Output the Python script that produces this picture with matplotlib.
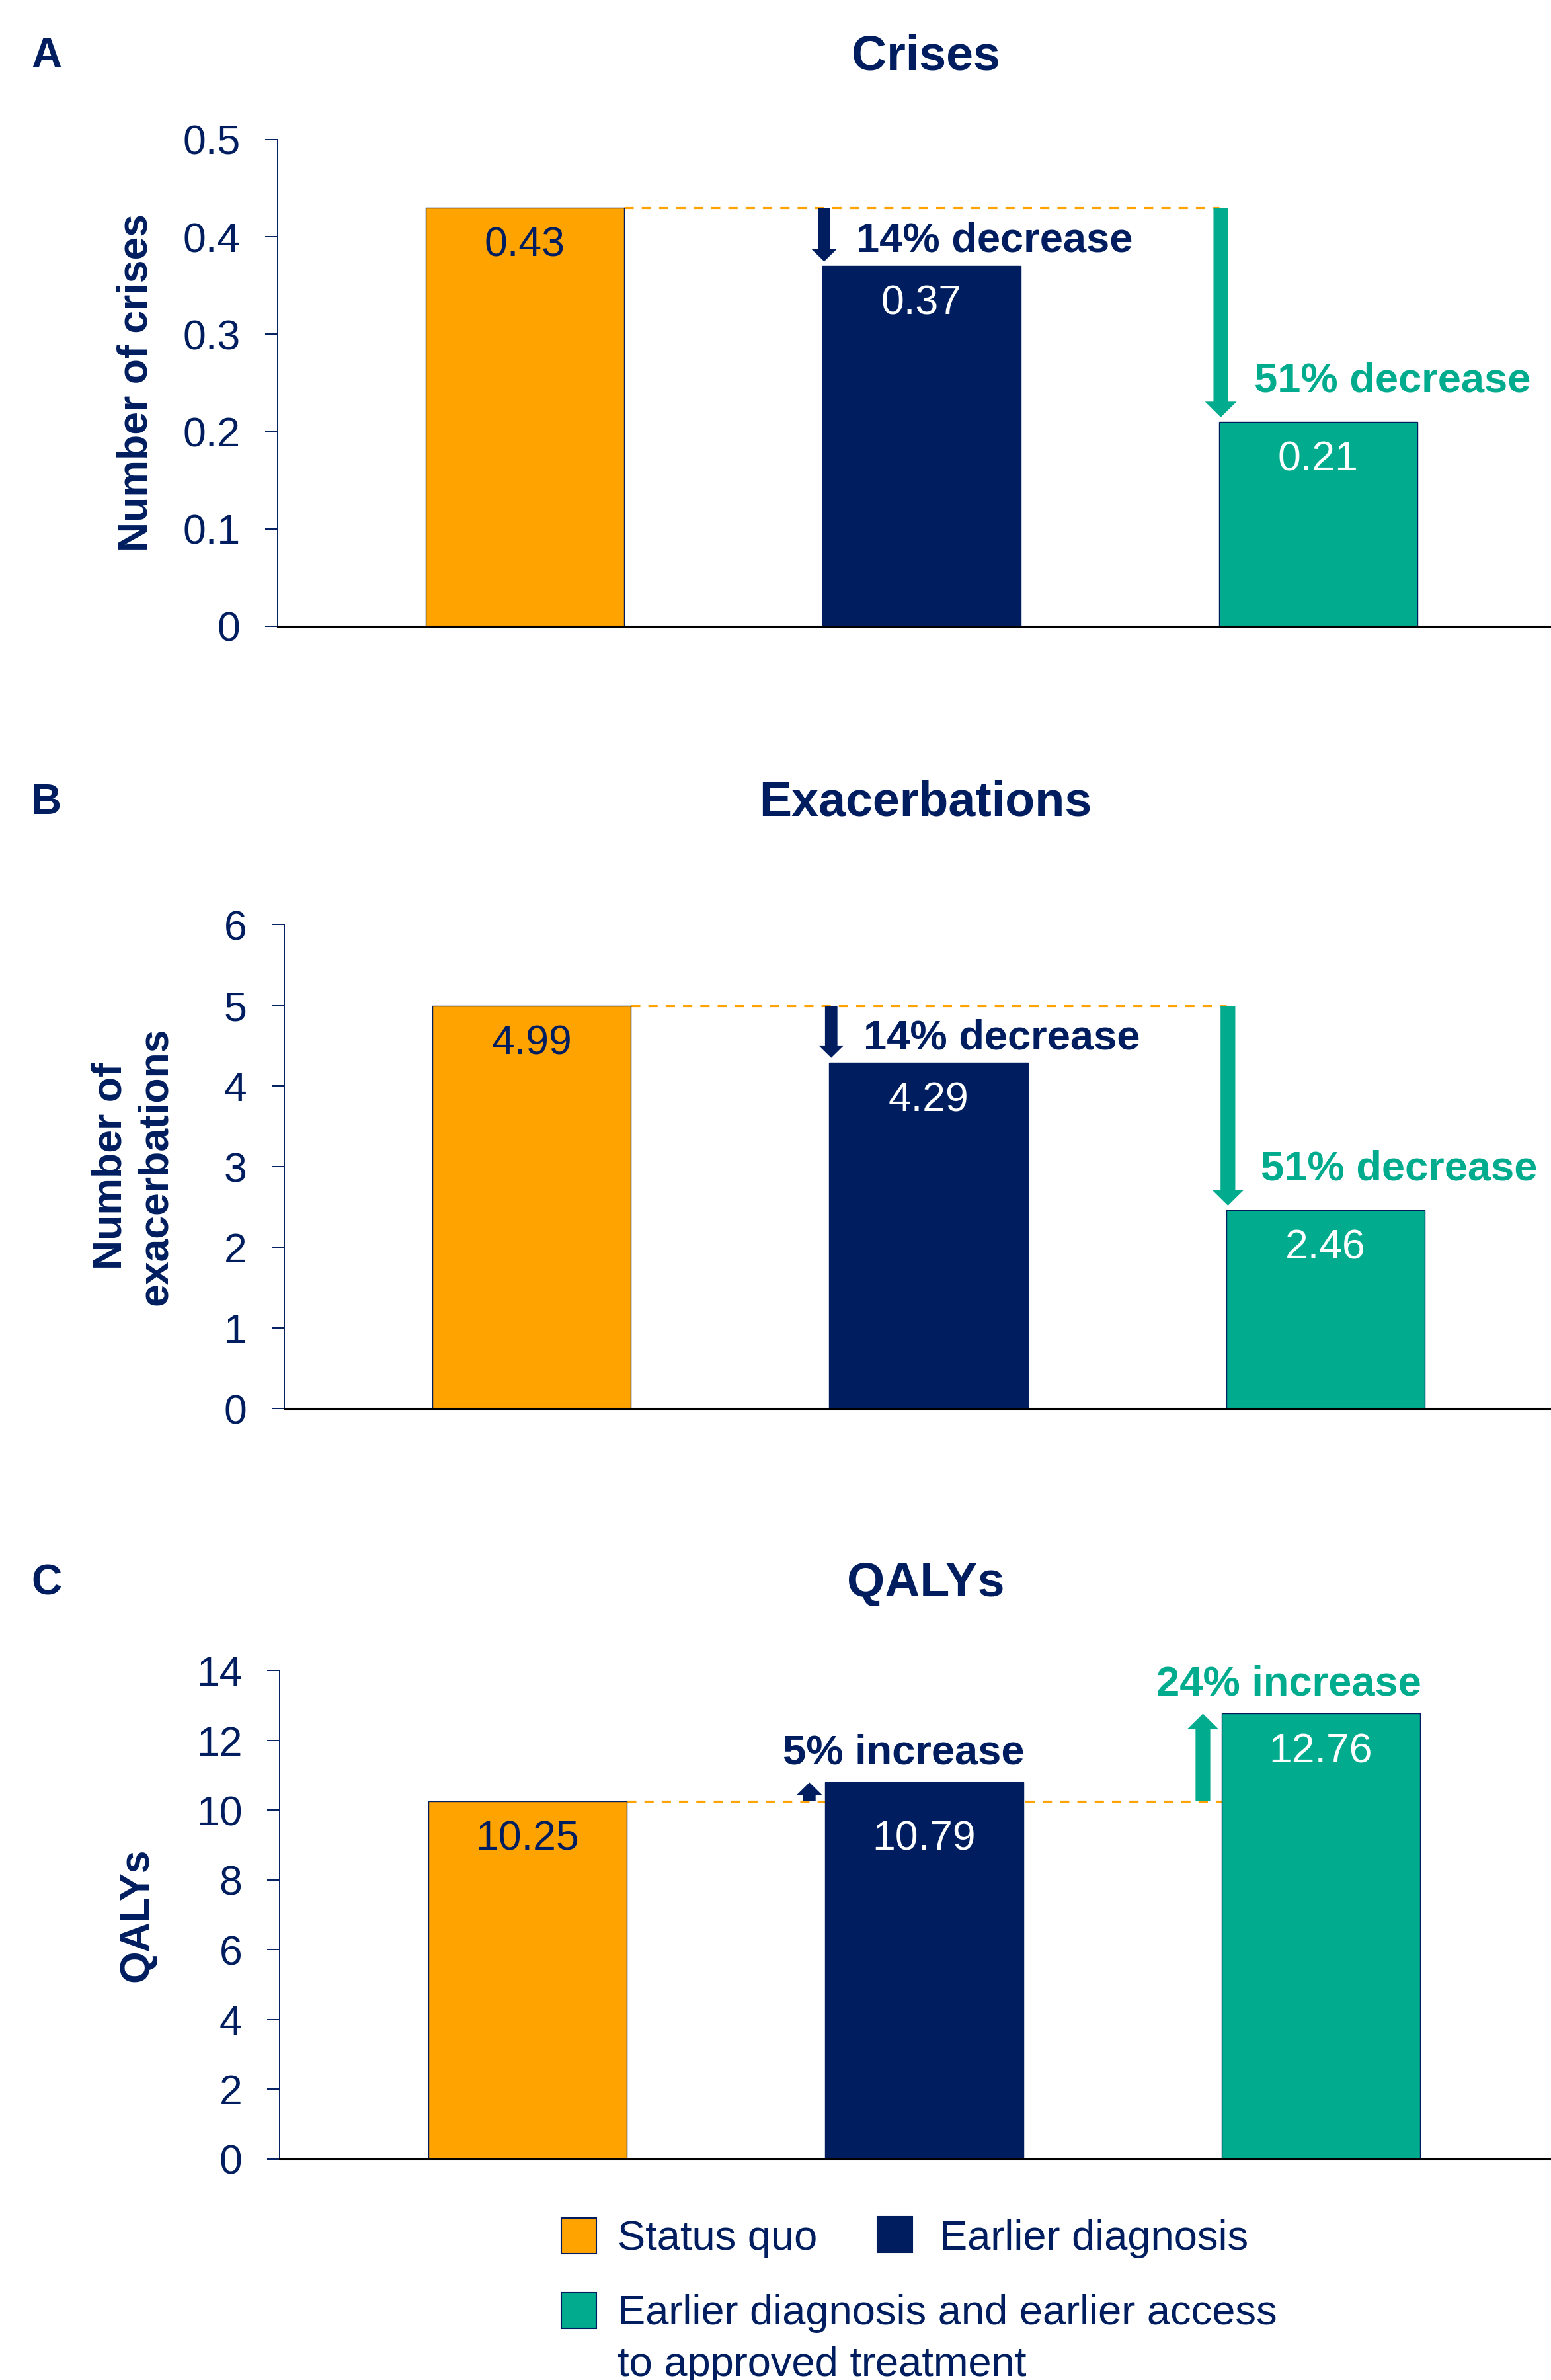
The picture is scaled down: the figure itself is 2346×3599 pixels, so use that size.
import matplotlib
matplotlib.use("Agg")
import matplotlib.pyplot as plt
from matplotlib.patches import Rectangle
from matplotlib.transforms import ScaledTranslation

plt.rcParams['font.family'] = ['Liberation Sans', 'DejaVu Sans']

ORANGE = '#FFA300'
NAVY = '#001E5F'
TEAL = '#00AB8E'

# scenario order: status quo, earlier diagnosis, earlier diagnosis + earlier access
bar_colors = [ORANGE, NAVY, TEAL]
value_colors = [NAVY, 'white', 'white']
legend_labels = ['Status quo', 'Earlier diagnosis',
                 'Earlier diagnosis and earlier access', 'to approved treatment']

crises = [0.43, 0.37, 0.21]
exacerbations = [4.99, 4.29, 2.46]
qalys = [10.25, 10.79, 12.76]

crises_change = ['14% decrease', '51% decrease']
exac_change = ['14% decrease', '51% decrease']
qaly_change = ['5% increase', '24% increase']

crises_ticks = [0, 0.1, 0.2, 0.3, 0.4, 0.5]
crises_ticklabels = ['0', '0.1', '0.2', '0.3', '0.4', '0.5']
exac_ticks = [0, 1, 2, 3, 4, 5, 6]
qaly_ticks = [0, 2, 4, 6, 8, 10, 12, 14]

W, H = 2346, 3599
DPI = 100
BAR_W = 0.5


def fx(px):
    return px / W


def fy(py):
    return 1 - py / H


fig = plt.figure(figsize=(W / DPI, H / DPI), dpi=DPI)

# letter, title, ylabel lines, values, change texts, ticks, ticklabels,
# axes box in px (left, top, bottom), xlim, title baseline px
panels = [
    ('A', 'Crises', ['Number of crises'], crises, crises_change,
     crises_ticks, crises_ticklabels, (420, 211, 947), (-0.623, 2.587), 105),
    ('B', 'Exacerbations', ['Number of', 'exacerbations'], exacerbations, exac_change,
     exac_ticks, [str(t) for t in exac_ticks], (430, 1398, 2130), (-0.624, 2.569), 1234),
    ('C', 'QALYs', ['QALYs'], qalys, qaly_change,
     qaly_ticks, [str(t) for t in qaly_ticks], (423, 2526, 3265), (-0.625, 2.58), 2414),
]

arrow_sizes = {NAVY: (13.5, 27.5, 13.5), TEAL: (16, 34.5, 17)}  # tail, head width, head length (pt)

for letter, title, ylab, vals, changes, ticks, tlabels, box, xlim, tb in panels:
    left, top, bottom = box
    ax = fig.add_axes([fx(left), fy(bottom), 1 - fx(left), (bottom - top) / H])
    x = list(range(len(vals)))
    ax.bar(x, vals, width=BAR_W, color=bar_colors, edgecolor=NAVY, linewidth=1.0, zorder=3)
    ax.set_xlim(*xlim)
    ax.set_ylim(ticks[0], ticks[-1])

    for s in ('top', 'right'):
        ax.spines[s].set_visible(False)
    ax.spines['left'].set_color(NAVY)
    ax.spines['left'].set_linewidth(1.4)
    ax.spines['bottom'].set_color('black')
    ax.spines['bottom'].set_linewidth(2.2)
    ax.spines['bottom'].set_zorder(6)
    ax.set_xticks([])
    ax.set_yticks(ticks, tlabels)
    ax.tick_params(axis='y', length=13.7, width=1.4, color=NAVY, labelcolor=NAVY,
                   labelsize=45, pad=27)

    # value labels inside the bars; drop below the reference line when it cuts through
    y_base = ax.transData.transform((0, vals[0]))[1]
    for i, v in enumerate(vals):
        gap = ax.transData.transform((0, v))[1] - y_base
        anchor = vals[0] if 0 < gap < 80 else v
        ax.annotate(f'{v:.2f}', xy=(i, anchor), xytext=(0, -53), textcoords='offset points',
                    ha='center', va='baseline', fontsize=45, color=value_colors[i], zorder=4)

    # reference line at status quo level
    ax.plot([0 + BAR_W / 2, 2 - BAR_W / 2], [vals[0], vals[0]], color=ORANGE, lw=2.3,
            dashes=(4.4, 3.8), zorder=2, solid_capstyle='butt', dash_capstyle='butt')

    # change arrows and labels
    for j, i in enumerate((1, 2)):
        col = bar_colors[i]
        tw, hw, hl = arrow_sizes[col]
        bar_left = i - BAR_W / 2
        decrease = vals[i] < vals[0]
        dx = 2 if decrease else -(hw / 2 + 3.3)
        tr = ax.transData + ScaledTranslation(dx / 72, 0, fig.dpi_scale_trans)
        ax.annotate('', xy=(bar_left, vals[i]), xycoords=tr,
                    xytext=(bar_left, vals[0]), textcoords=tr,
                    arrowprops=dict(arrowstyle=f'simple,head_length={hl},head_width={hw},tail_width={tw}',
                                    color=col, lw=0, shrinkA=0, shrinkB=5 if decrease else 0,
                                    mutation_scale=1),
                    annotation_clip=False, zorder=5)
        if decrease and j == 0:
            ax.annotate(changes[j], xy=(bar_left, (vals[0] + vals[i]) / 2), xycoords=tr,
                        xytext=(35, -16), textcoords='offset points', ha='left', va='baseline',
                        fontsize=45.5, fontweight='bold', color=col, zorder=5)
        elif decrease:
            ax.annotate(changes[j], xy=(bar_left, vals[i]), xycoords=tr,
                        xytext=(36, 33), textcoords='offset points', ha='left', va='baseline',
                        fontsize=45.5, fontweight='bold', color=col, zorder=5)
        else:
            ax.annotate(changes[j], xy=(i + BAR_W / 2, vals[i]),
                        xytext=(1, 20), textcoords='offset points', ha='right', va='baseline',
                        fontsize=45.5, fontweight='bold', color=col, zorder=5)

    # panel letter and title
    fig.text(fx(47), fy(tb - 3), letter, fontsize=46, fontweight='bold', color=NAVY,
             ha='left', va='baseline')
    fig.text(fx(1400), fy(tb), title, fontsize=53, fontweight='bold', color=NAVY,
             ha='center', va='baseline')

    # y axis label (rotated, baselines on the right)
    yc = fy((top + bottom) / 2)
    if len(ylab) == 1:
        fig.text(fx(223), yc, ylab[0], rotation=90, rotation_mode='anchor', fontsize=45,
                 fontweight='bold', color=NAVY, ha='center', va='baseline')
    else:
        for k, line in enumerate(ylab):
            fig.text(fx(184 + 68 * k), yc, line, rotation=90, rotation_mode='anchor',
                     fontsize=45, fontweight='bold', color=NAVY, ha='center', va='baseline')

# legend
legend_items = [
    (849, 3354, ORANGE, [(934, 3402, legend_labels[0])]),
    (1327, 3352, NAVY, [(1421, 3402, legend_labels[1])]),
    (849, 3467, TEAL, [(934, 3515, legend_labels[2]), (934, 3593, legend_labels[3])]),
]
for px, py, col, lines in legend_items:
    fig.patches.append(Rectangle((fx(px), fy(py + 54)), 53 / W, 54 / H,
                                 transform=fig.transFigure, facecolor=col,
                                 edgecolor=NAVY, linewidth=1.5))
    for tx, ty, txt in lines:
        fig.text(fx(tx), fy(ty), txt, fontsize=45.5, color=NAVY, ha='left', va='baseline')

fig.savefig('out.png', dpi=DPI)
